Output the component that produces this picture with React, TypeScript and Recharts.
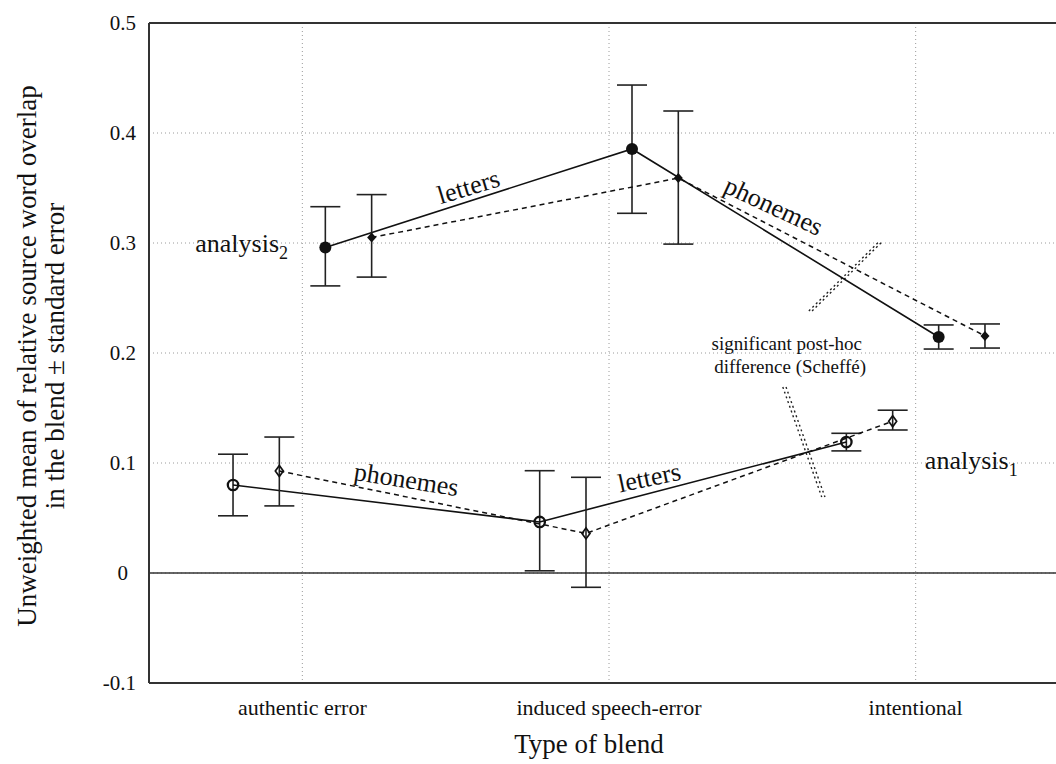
import React from "react";
import {
  LineChart,
  Line,
  XAxis,
  YAxis,
  CartesianGrid,
  ErrorBar,
  ReferenceLine,
  ReferenceDot,
} from "recharts";

// ---------- data ----------
const categories = ["authentic error", "induced speech-error", "intentional"];
const xTicks = [1, 2, 3];
const yTicks = [-0.1, 0, 0.1, 0.2, 0.3, 0.4, 0.5];
const minorTicks = [
  -0.1, -0.075, -0.05, -0.025, 0, 0.025, 0.05, 0.075, 0.1, 0.125, 0.15, 0.175,
  0.2, 0.225, 0.25, 0.275, 0.3, 0.325, 0.35, 0.375, 0.4, 0.425, 0.45, 0.475, 0.5,
];

// analysis 2 (upper), letters: filled circle, solid line
const a2LettersMean = [0.296, 0.3855, 0.2145];
const a2LettersLow = [0.261, 0.327, 0.2036];
const a2LettersHigh = [0.333, 0.4436, 0.2255];

// analysis 2 (upper), phonemes: small filled diamond, dashed line
const a2PhonemesMean = [0.305, 0.359, 0.2155];
const a2PhonemesLow = [0.269, 0.299, 0.2045];
const a2PhonemesHigh = [0.344, 0.42, 0.2264];

// analysis 1 (lower), letters: open circle, solid line
const a1LettersMean = [0.08, 0.0464, 0.119];
const a1LettersLow = [0.052, 0.002, 0.111];
const a1LettersHigh = [0.108, 0.093, 0.127];

// analysis 1 (lower), phonemes: open diamond, dashed line
const a1PhonemesMean = [0.0927, 0.036, 0.138];
const a1PhonemesLow = [0.061, -0.013, 0.13];
const a1PhonemesHigh = [0.1236, 0.087, 0.148];

// horizontal offset of each series inside a category (in category units)
const OFF_A2_LETTERS = 0.075;
const OFF_A2_PHONEMES = 0.226;
const OFF_A1_LETTERS = -0.226;
const OFF_A1_PHONEMES = -0.075;

// annotations (data coordinates)
const schefféUpper = [
  { x: 2.657, y: 0.2382 },
  { x: 2.885, y: 0.301 },
];
const schefféLower = [
  { x: 2.572, y: 0.1691 },
  { x: 2.699, y: 0.069 },
];

const build = (mean: number[], low: number[], high: number[], off: number) =>
  categories.map((c, i) => ({
    name: c,
    x: i + 1 + off,
    y: mean[i],
    err: [mean[i] - low[i], high[i] - mean[i]],
  }));

const a2Letters = build(a2LettersMean, a2LettersLow, a2LettersHigh, OFF_A2_LETTERS);
const a2Phonemes = build(a2PhonemesMean, a2PhonemesLow, a2PhonemesHigh, OFF_A2_PHONEMES);
const a1Letters = build(a1LettersMean, a1LettersLow, a1LettersHigh, OFF_A1_LETTERS);
const a1Phonemes = build(a1PhonemesMean, a1PhonemesLow, a1PhonemesHigh, OFF_A1_PHONEMES);

// ---------- styling ----------
const FONT = "'Liberation Serif', 'Times New Roman', serif";
const INK = "#111";
const DX = 0.0105; // ~3px offset for the double Scheffé lines

const FilledCircle = (p: any) =>
  p.cx == null ? null : <circle key={`fc${p.index}`} cx={p.cx} cy={p.cy} r={6} fill={INK} />;

const SmallDiamond = (p: any) =>
  p.cx == null ? null : (
    <polygon
      key={`sd${p.index}`}
      points={`${p.cx},${p.cy - 5} ${p.cx + 4.5},${p.cy} ${p.cx},${p.cy + 5} ${p.cx - 4.5},${p.cy}`}
      fill={INK}
    />
  );

const OpenCircle = (p: any) =>
  p.cx == null ? null : (
    <circle key={`oc${p.index}`} cx={p.cx} cy={p.cy} r={5.2} fill="none" stroke={INK} strokeWidth={2.3} />
  );

const OpenDiamond = (p: any) =>
  p.cx == null ? null : (
    <polygon
      key={`od${p.index}`}
      points={`${p.cx},${p.cy - 5.5} ${p.cx + 4},${p.cy} ${p.cx},${p.cy + 5.5} ${p.cx - 4},${p.cy}`}
      fill="none"
      stroke={INK}
      strokeWidth={1.7}
    />
  );

const textShape =
  (content: React.ReactNode, opts: { size?: number; rotate?: number; anchor?: string; weight?: any } = {}) =>
  (p: any) =>
    (
      <text
        x={p.cx}
        y={p.cy}
        transform={opts.rotate ? `rotate(${opts.rotate}, ${p.cx}, ${p.cy})` : undefined}
        textAnchor={opts.anchor || "middle"}
        fontFamily={FONT}
        fontSize={opts.size || 26}
        fontWeight={opts.weight || "normal"}
        fill={INK}
      >
        {content}
      </text>
    );

const YTick = (p: any) => {
  const v = p.payload.value;
  const label = v === 0 ? "0" : v.toFixed(1);
  return (
    <text
      x={p.x + (v === 0 ? -8 : 0)}
      y={p.y}
      dy="0.35em"
      textAnchor="end"
      fontFamily={FONT}
      fontSize={21}
      fill={INK}
    >
      {label}
    </text>
  );
};

const XTick = (p: any) => (
  <text x={p.x} y={p.y} dy={32} textAnchor="middle" fontFamily={FONT} fontSize={22} fill={INK}>
    {categories[p.payload.value - 1]}
  </text>
);

const YTitle = (props: any) => {
  const vb = props.viewBox || { x: 0, y: 23, width: 149, height: 660 };
  const cy = vb.y + vb.height / 2 + 3;
  return (
    <g>
      <text
        transform={`translate(27, ${cy}) rotate(-90)`}
        textAnchor="middle"
        dominantBaseline="central"
        fontFamily={FONT}
        fontSize={27}
        fill={INK}
      >
        Unweighted mean of relative source word overlap
      </text>
      <text
        transform={`translate(55, ${cy}) rotate(-90)`}
        textAnchor="middle"
        dominantBaseline="central"
        fontFamily={FONT}
        fontSize={27}
        fill={INK}
      >
        in the blend ± standard error
      </text>
    </g>
  );
};

const XTitle = (props: any) => {
  const vb = props.viewBox || { x: 149, y: 683, width: 920, height: 81 };
  return (
    <text x={589} y={vb.y + 70} textAnchor="middle" fontFamily={FONT} fontSize={27} fill={INK}>
      Type of blend
    </text>
  );
};

const schefféStyle = { stroke: "#222", strokeWidth: 1.4, strokeDasharray: "2 3" };

export default function App() {
  return (
    <div
      style={{
        position: "absolute",
        left: 0,
        top: 0,
        width: 1056,
        height: 764,
        overflow: "hidden",
        background: "#fff",
      }}
    >
      <LineChart width={1069} height={764} margin={{ top: 23, right: 0, bottom: 0, left: 0 }}>
        <CartesianGrid stroke="#9a9a9a" strokeDasharray="1 3" />
        <XAxis
          dataKey="x"
          type="number"
          domain={[0.5, 3.5]}
          ticks={xTicks}
          allowDataOverflow
          height={81}
          tickLine={false}
          tickSize={0}
          tickMargin={0}
          axisLine={{ stroke: "#333", strokeWidth: 2 }}
          tick={<XTick />}
          label={{ content: <XTitle /> } as any}
        />
        <YAxis
          yAxisId="minor"
          orientation="left"
          width={0}
          mirror
          domain={[-0.1, 0.5]}
          ticks={minorTicks}
          tickSize={3}
          tick={false}
          axisLine={false}
          tickLine={{ stroke: "#333", strokeWidth: 1 }}
          allowDataOverflow
        />
        <YAxis
          type="number"
          domain={[-0.1, 0.5]}
          ticks={yTicks}
          width={149}
          tickLine={false}
          tickSize={0}
          tickMargin={13}
          allowDataOverflow
          axisLine={{ stroke: "#333", strokeWidth: 2 }}
          tick={<YTick />}
          label={{ content: <YTitle /> } as any}
        />
        <ReferenceLine y={0.5} stroke="#333" strokeWidth={2} />
        <ReferenceLine y={0} stroke="#333" strokeWidth={1.5} />

        {/* Scheffé double dotted lines */}
        <ReferenceLine
          segment={[
            { x: schefféUpper[0].x - DX / 2, y: schefféUpper[0].y },
            { x: schefféUpper[1].x - DX / 2, y: schefféUpper[1].y },
          ]}
          {...schefféStyle}
        />
        <ReferenceLine
          segment={[
            { x: schefféUpper[0].x + DX / 2, y: schefféUpper[0].y },
            { x: schefféUpper[1].x + DX / 2, y: schefféUpper[1].y },
          ]}
          {...schefféStyle}
        />
        <ReferenceLine
          segment={[
            { x: schefféLower[0].x - DX / 2, y: schefféLower[0].y },
            { x: schefféLower[1].x - DX / 2, y: schefféLower[1].y },
          ]}
          {...schefféStyle}
        />
        <ReferenceLine
          segment={[
            { x: schefféLower[0].x + DX / 2, y: schefféLower[0].y },
            { x: schefféLower[1].x + DX / 2, y: schefféLower[1].y },
          ]}
          {...schefféStyle}
        />

        <Line
          data={a2Letters}
          dataKey="y"
          stroke={INK}
          strokeWidth={1.6}
          dot={FilledCircle}
          activeDot={false}
          isAnimationActive={false}
        >
          <ErrorBar dataKey="err" direction="y" width={15} stroke="#222" strokeWidth={1.6} />
        </Line>
        <Line
          data={a2Phonemes}
          dataKey="y"
          stroke={INK}
          strokeWidth={1.5}
          strokeDasharray="5 4"
          dot={SmallDiamond}
          activeDot={false}
          isAnimationActive={false}
        >
          <ErrorBar dataKey="err" direction="y" width={15} stroke="#222" strokeWidth={1.6} />
        </Line>
        <Line
          data={a1Letters}
          dataKey="y"
          stroke={INK}
          strokeWidth={1.6}
          dot={OpenCircle}
          activeDot={false}
          isAnimationActive={false}
        >
          <ErrorBar dataKey="err" direction="y" width={15} stroke="#222" strokeWidth={1.6} />
        </Line>
        <Line
          data={a1Phonemes}
          dataKey="y"
          stroke={INK}
          strokeWidth={1.5}
          strokeDasharray="5 4"
          dot={OpenDiamond}
          activeDot={false}
          isAnimationActive={false}
        >
          <ErrorBar dataKey="err" direction="y" width={15} stroke="#222" strokeWidth={1.6} />
        </Line>

        {/* text annotations */}
        <ReferenceDot
          x={0.9533}
          y={0.2918}
          r={0}
          ifOverflow="visible"
          shape={textShape(
            <>
              analysis<tspan fontSize={18} dy={7}>2</tspan>
            </>,
            { anchor: "end" }
          )}
        />
        <ReferenceDot
          x={3.03}
          y={0.0945}
          r={0}
          ifOverflow="visible"
          shape={textShape(
            <>
              analysis<tspan fontSize={18} dy={7}>1</tspan>
            </>,
            { anchor: "start" }
          )}
        />
        <ReferenceDot x={1.55} y={0.3436} r={0} ifOverflow="visible" shape={textShape("letters", { rotate: -17 })} />
        <ReferenceDot x={2.525} y={0.3264} r={0} ifOverflow="visible" shape={textShape("phonemes", { rotate: 25 })} />
        <ReferenceDot x={1.335} y={0.0773} r={0} ifOverflow="visible" shape={textShape("phonemes", { rotate: 9 })} />
        <ReferenceDot x={2.137} y={0.0791} r={0} ifOverflow="visible" shape={textShape("letters", { rotate: -12 })} />
        <ReferenceDot
          x={2.825} y={0.2027} r={0} ifOverflow="visible"
          shape={textShape("significant post-hoc", { size: 19, anchor: "end" })}
        />
        <ReferenceDot
          x={2.838} y={0.1818} r={0} ifOverflow="visible"
          shape={textShape("difference (Scheffé)", { size: 19, anchor: "end" })}
        />
      </LineChart>
    </div>
  );
}
